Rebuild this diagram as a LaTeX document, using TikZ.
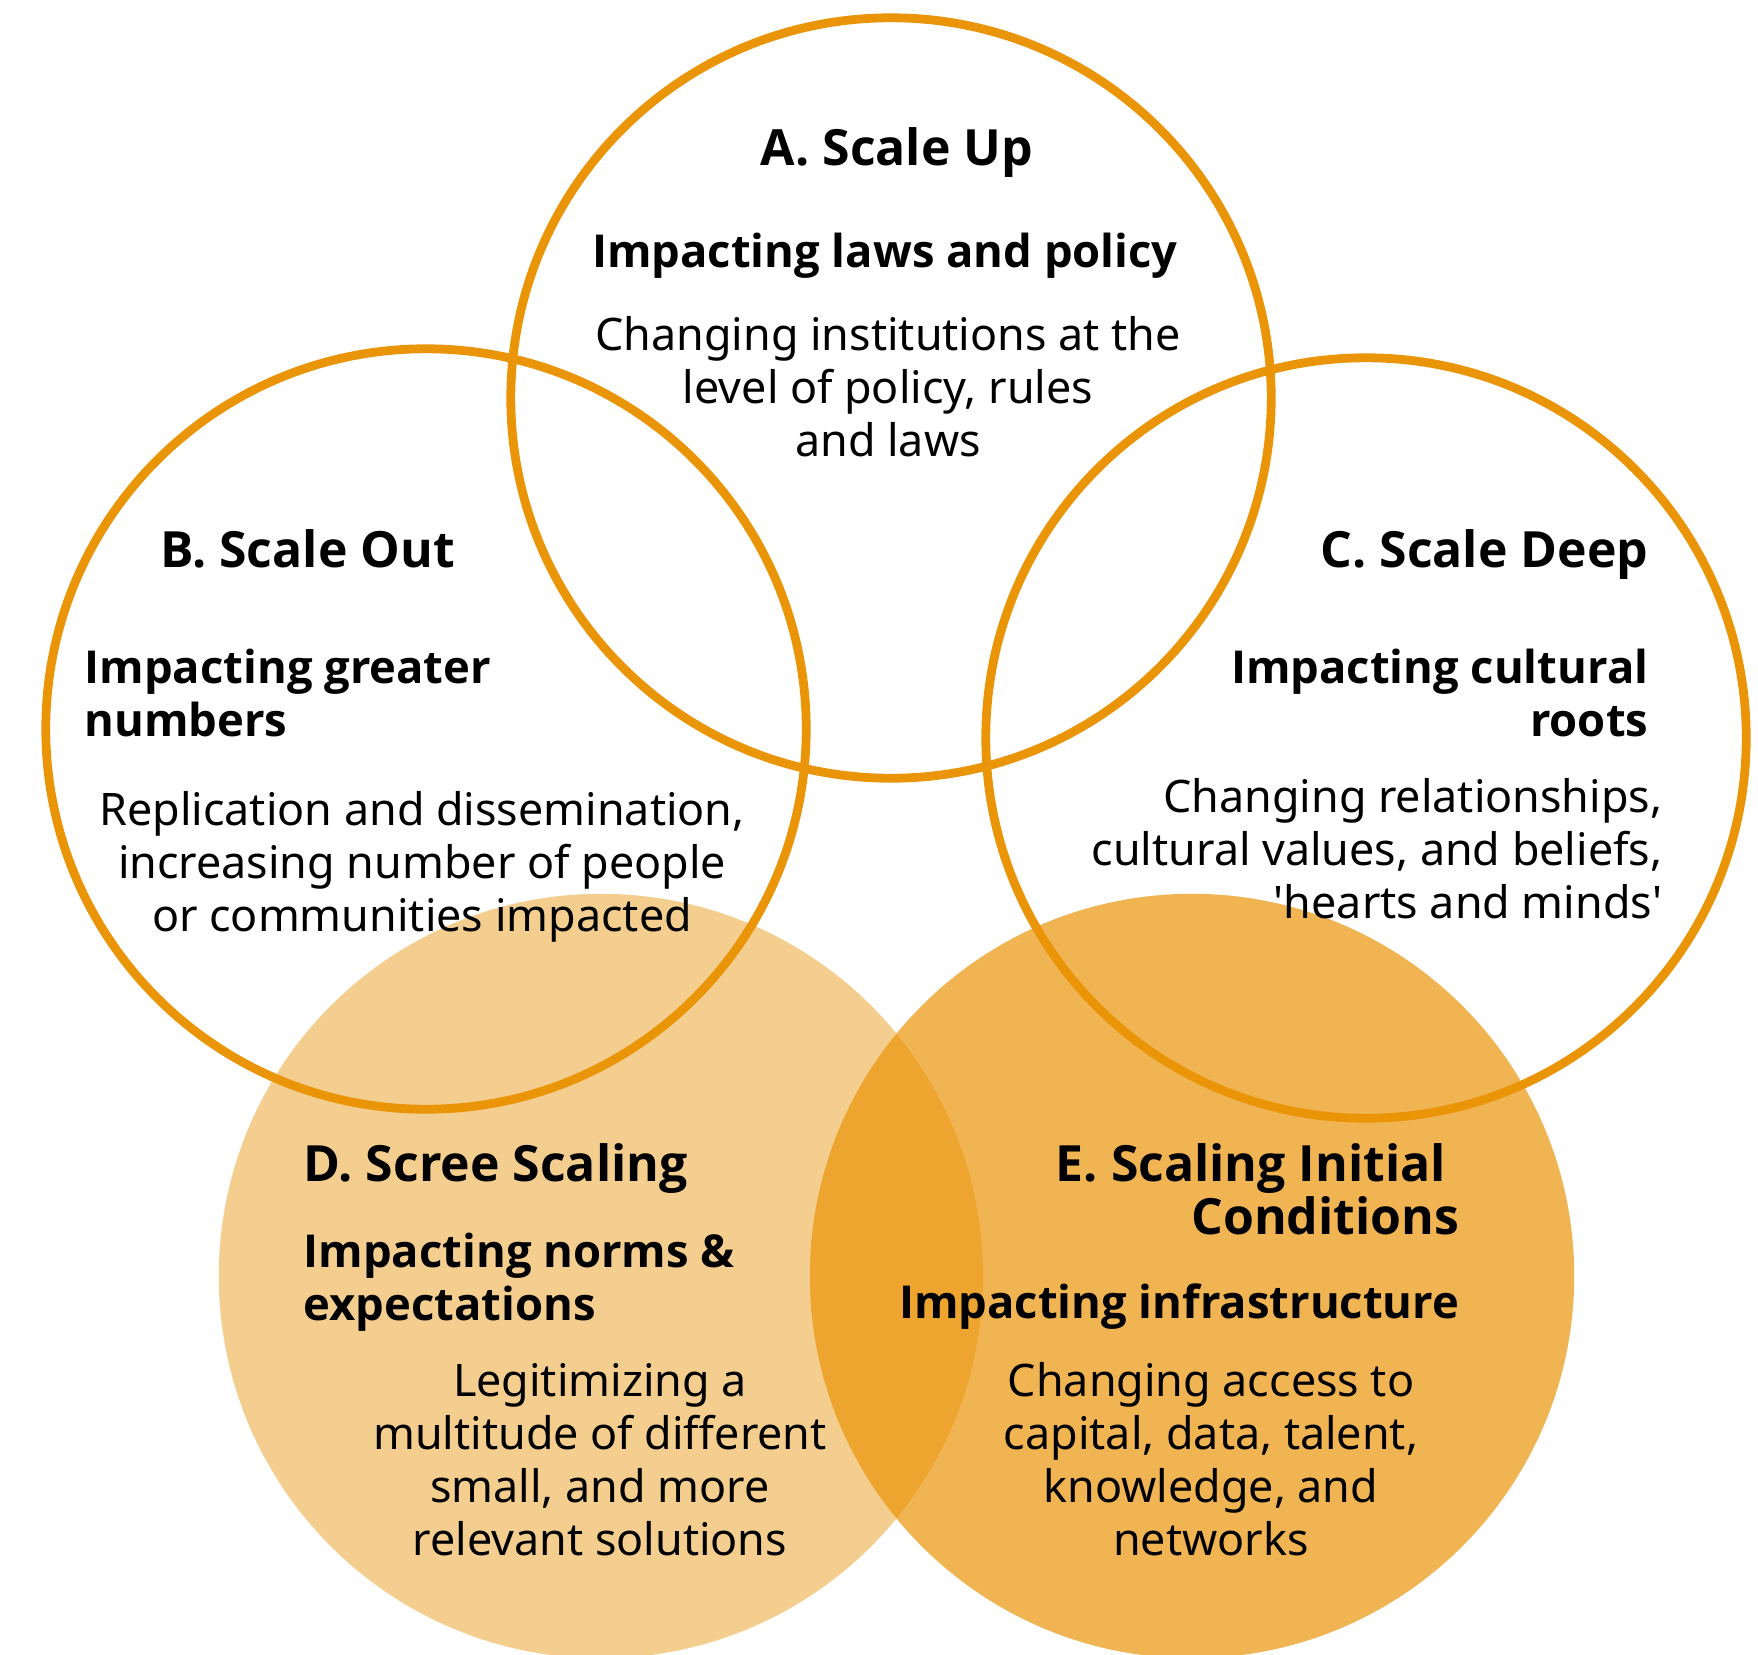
\documentclass[tikz,border=0pt]{standalone}
\usepackage{fontspec}
\setmainfont{Noto Sans}
\newfontfamily\heavyfont{Open Sans}
\usepackage{xcolor}
\usetikzlibrary{positioning}
\definecolor{ringorange}{HTML}{EA9508}
\definecolor{paleorange}{HTML}{F4CE8E}
\definecolor{midorange}{HTML}{F0B452}
\definecolor{deeporange}{HTML}{EEA530}

\begin{document}
\begin{tikzpicture}[x=0.01cm,y=-0.01cm,
    ring/.style={draw=ringorange, line width=2.5pt, circle, minimum size=7.6cm, inner sep=0pt},
    disc/.style={circle, minimum size=7.64cm, inner sep=0pt},
    head/.style={font=\fontsize{14.2}{15}\selectfont\heavyfont\bfseries, inner sep=0pt},
    sub/.style={font=\fontsize{12.9}{15}\selectfont\heavyfont\bfseries, inner sep=0pt},
    body/.style={font=\fontsize{12.75}{15}\selectfont, inner sep=0pt}]
  \useasboundingbox (0,0) rectangle (1758,1654);

  % filled circles D and E
  \node[disc, fill=paleorange] (D) at (601,1276) {};
  \node[disc, fill=midorange] (E) at (1192,1276) {};
  \begin{scope}
    \clip (601,1276) circle (382);
    \fill[deeporange] (1192,1276) circle (382);
  \end{scope}

  % outlined circles A, B and C
  \node[ring] (A) at (891,398) {};
  \node[ring] (B) at (426,729) {};
  \node[ring] (C) at (1366,738) {};

  % texts (base = last line)
  % A
  \node[head, anchor=base] (headA) at (897,165) {A. Scale Up};
  \node[sub, anchor=base] (subA) at (885,267) {Impacting laws and policy};
  \node[body, anchor=base, align=center] (bodyA) at (888,456) {Changing institutions at the\\level of policy, rules\\and laws};

  % B
  \node[head, anchor=base west] (headB) at (160,567) {B. Scale Out};
  \node[sub, anchor=base west, align=left] (subB) at (84,736) {Impacting greater\\numbers};
  \node[body, anchor=base, align=center] (bodyB) at (422,931) {Replication and dissemination,\\increasing number of people\\or communities impacted};

  % C
  \node[head, anchor=base east] (headC) at (1649,567) {C. Scale Deep};
  \node[sub, anchor=base east, align=right] (subC) at (1649,736) {Impacting cultural\\roots};
  \node[body, anchor=base east, align=right] (bodyC) at (1663,918) {Changing relationships,\\cultural values, and beliefs,\\\textquotesingle hearts and minds\textquotesingle};

  % D
  \node[head, anchor=base west] (headD) at (303,1181) {D. Scree Scaling};
  \node[sub, anchor=base west, align=left] (subD) at (303,1320) {Impacting norms \&\\expectations};
  \node[body, anchor=base, align=center] (bodyD) at (600,1555) {Legitimizing a\\multitude of different\\small, and more\\relevant solutions};

  % E
  \node[head, anchor=base east, align=right] (headE) at (1460,1234) {E. Scaling Initial\kern0.27em\\Conditions};
  \node[sub, anchor=base east] (subE) at (1460,1318) {Impacting infrastructure};
  \node[body, anchor=base, align=center] (bodyE) at (1211,1555) {Changing access to\\capital, data, talent,\\knowledge, and\\networks};
\end{tikzpicture}
\end{document}
